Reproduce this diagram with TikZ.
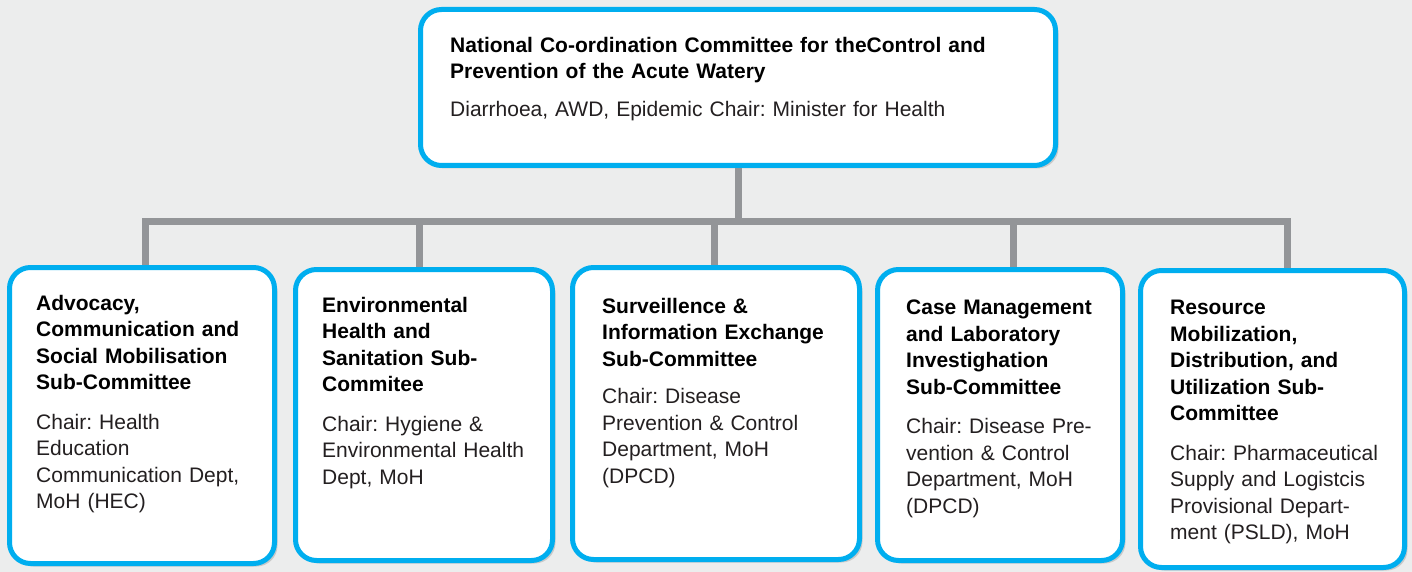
\documentclass[tikz,border=0pt]{standalone}
\usepackage{fontspec}
\setmainfont{Liberation Sans}
\usetikzlibrary{positioning,shadows}
\frenchspacing

\definecolor{framecyan}{HTML}{00AEEF}
\definecolor{linkgray}{HTML}{939598}
\definecolor{bgedge}{HTML}{ECEDED}
\definecolor{bgmid}{HTML}{FBFBFB}
\definecolor{chairtext}{HTML}{231F20}

\tikzset{
  orgbox/.style={draw=framecyan, line width=5pt, fill=white, rounded corners=21pt,
    drop shadow={shadow xshift=3pt, shadow yshift=-3pt, opacity=0.22, fill=black!70}},
  boxtext/.style={inner sep=0pt, align=left, text width=#1,
    font=\fontsize{21}{26.5}\selectfont},
  boxtext/.default=250pt,
  link/.style={draw=linkgray, line width=7pt},
}

\begin{document}
\begin{tikzpicture}[x=1pt, y=-1pt]
    \useasboundingbox (0,0) rectangle (1412,572);
    % Fondo
    \shade[left color=bgedge, middle color=bgmid, right color=bgedge] (0,0) rectangle (1412,572);

    % Comite nacional
    \node[orgbox, minimum width=635pt, minimum height=156pt] (ncc) at (738,87.5) {};
    \node[boxtext=620pt, below right=30pt and 32pt of ncc.north west] (ncc-text)
        {\textbf{National Co-ordination Committee for theControl and\\
        Prevention of the Acute Watery}\\[11pt]
        \color{chairtext}Diarrhoea, AWD, Epidemic Chair: Minister for Health};

    % Subcomites
    \node[orgbox, minimum width=265pt, minimum height=296pt] (acsm) at (142,415.5) {};
    \node[orgbox, minimum width=257pt, minimum height=291pt] (ehs)  at (424,415) {};
    \node[orgbox, minimum width=287pt, minimum height=292pt] (sie)  at (716,413.5) {};
    \node[orgbox, minimum width=245pt, minimum height=291pt] (cmli) at (1000,415) {};
    \node[orgbox, minimum width=264pt, minimum height=297pt] (rmdu) at (1272.5,419) {};

    \node[boxtext, below right=30pt and 29pt of acsm.north west] (acsm-text)
        {\textbf{Advocacy,\\ Communication and\\ Social Mobilisation\\ Sub-Committee}\\[13pt]
        \color{chairtext}Chair: Health\\ Education\\ Communication Dept,\\ MoH (HEC)};
    \node[boxtext, below right=30pt and 29pt of ehs.north west] (ehs-text)
        {\textbf{Environmental\\ Health and\\ Sanitation Sub-\\ Commitee}\\[13pt]
        \color{chairtext}Chair: Hygiene \&\\ Environmental Health\\ Dept, MoH};
    \node[boxtext, below right=33pt and 32pt of sie.north west] (sie-text)
        {\textbf{Surveillence \&\\ Information Exchange\\ Sub-Committee}\\[11pt]
        \color{chairtext}Chair: Disease\\ Prevention \& Control\\ Department, MoH\\ (DPCD)};
    \node[boxtext, below right=33pt and 31pt of cmli.north west] (cmli-text)
        {\textbf{Case Management\\ and Laboratory\\ Investighation\\ Sub-Committee}\\[13pt]
        \color{chairtext}Chair: Disease Pre-\\ vention \& Control\\ Department, MoH\\ (DPCD)};
    \node[boxtext, below right=32pt and 32pt of rmdu.north west] (rmdu-text)
        {\textbf{Resource\\ Mobilization,\\ Distribution, and\\ Utilization Sub-\\ Committee}\\[13pt]
        \color{chairtext}Chair: Pharmaceutical\\ Supply and Logistcis\\ Provisional Depart-\\ ment (PSLD), MoH};

    % Conectores
    \coordinate (bar) at (0,221);
    \draw[link] (ncc.south) -- (ncc.south |- bar);
    \foreach \b/\x in {acsm/145, ehs/419, sie/714, cmli/1013, rmdu/1287}
        \coordinate (\b-drop) at (\x,221);
    \draw[link, line join=miter] (acsm-drop |- acsm.north) -- (acsm-drop) -- (rmdu-drop) -- (rmdu-drop |- rmdu.north);
    \foreach \b in {ehs, sie, cmli}
        \draw[link] (\b-drop) -- (\b-drop |- \b.north);
\end{tikzpicture}
\end{document}
